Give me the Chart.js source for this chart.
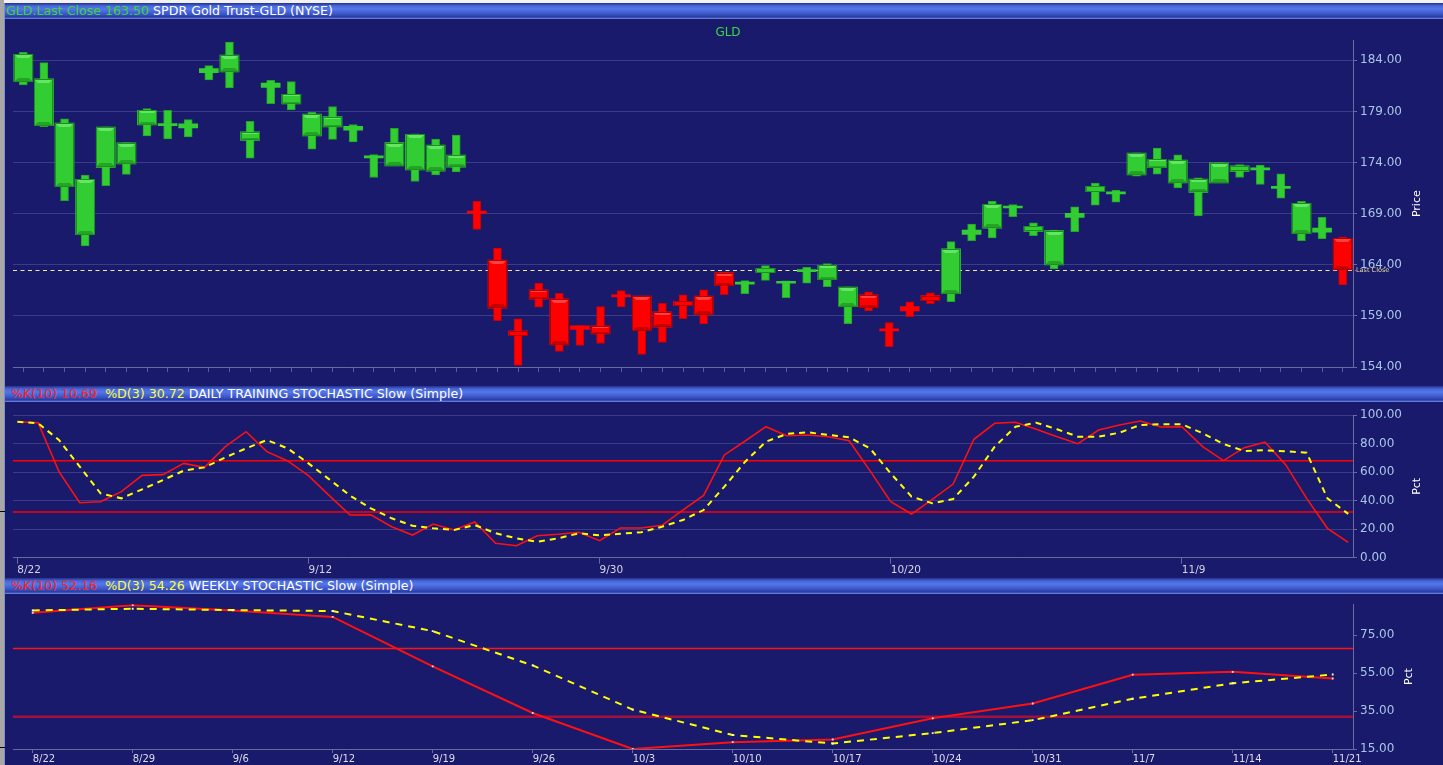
<!DOCTYPE html>
<html>
<head>
<meta charset="utf-8">
<title>GLD</title>
<script src="https://cdn.jsdelivr.net/npm/chart.js@4.4.1/dist/chart.umd.min.js"></script>
<style>
  html, body { margin: 0; padding: 0; width: 1443px; height: 765px; overflow: hidden; background: #1a1a6c; font-family: "DejaVu Sans", sans-serif; }
  .abs { position: absolute; }
  .hdr { position: absolute; left: 5px; right: 0; height: 16px; line-height: 16px; font-size: 12.6px; color: #fff; white-space: pre;
         background: linear-gradient(to bottom, #26308a 0px, #4668dc 3px, #5676e8 6px, #3a56c8 11px, #2a3aa0 14px, #7090ee 16px); }
  .wrap { position: absolute; left: 0; width: 1443px; }
  .k { color: #ff2424; }
  .d { color: #ffff30; }
</style>
</head>
<body>

<div class="abs" style="left:0;top:0;width:1443px;height:3px;background:#f2f2f2"></div>
<div class="hdr" style="top:3px;padding-left:1px"><span style="color:#3cd43c">GLD.Last Close 163.50</span> SPDR Gold Trust-GLD (NYSE)</div>
<div class="wrap" style="top:18px;height:368px"><canvas id="price"></canvas></div>

<div class="hdr" style="top:386px;padding-left:6px"><span class="k">%K(10) 10.69</span>  <span class="d">%D(3) 30.72</span> DAILY TRAINING STOCHASTIC Slow (Simple)</div>
<div class="wrap" style="top:402px;height:176px"><canvas id="daily"></canvas></div>

<div class="hdr" style="top:578px;padding-left:6px"><span class="k">%K(10) 52.16</span>  <span class="d">%D(3) 54.26</span> WEEKLY STOCHASTIC Slow (Simple)</div>
<div class="wrap" style="top:594px;height:171px"><canvas id="weekly"></canvas></div>

<div class="abs" style="left:0;top:0;width:4px;height:765px;background:#a8a8a8"></div>
<div class="abs" style="left:4px;top:3px;width:1px;height:762px;background:#7f8fc4"></div>
<div class="abs" style="left:0;top:511px;width:5px;height:1px;background:#000"></div>
<div class="abs" style="left:0;top:747px;width:5px;height:1px;background:#000"></div>

<script>
// ---- daily sessions (GLD, 8/22 .. 11/21)
const DAYS = [
  "8/22","8/23","8/24","8/25","8/26","8/29","8/30","8/31","9/1","9/2",
  "9/6","9/7","9/8","9/9","9/12","9/13","9/14","9/15","9/16","9/19",
  "9/20","9/21","9/22","9/23","9/26","9/27","9/28","9/29","9/30","10/3",
  "10/4","10/5","10/6","10/7","10/10","10/11","10/12","10/13","10/14","10/17",
  "10/18","10/19","10/20","10/21","10/24","10/25","10/26","10/27","10/28","10/31",
  "11/1","11/2","11/3","11/4","11/7","11/8","11/9","11/10","11/11","11/14",
  "11/15","11/16","11/17","11/18","11/21"];

const OPEN = [
  181.92,177.60,171.63,166.94,173.52,173.87,177.68,177.62,177.40,182.80,
  182.86,176.16,181.36,179.73,176.60,177.49,177.16,174.46,173.68,173.29,
  173.16,173.55,169.25,164.47,157.54,161.54,160.66,158.03,158.02,161.05,
  160.95,159.39,160.43,160.95,163.23,162.10,163.23,162.19,163.33,162.55,
  159.91,161.05,157.73,159.91,160.98,161.18,166.98,167.59,169.55,167.27,
  163.98,168.64,171.14,170.94,172.80,173.49,172.02,171.08,172.02,173.13,
  173.29,171.47,167.04,167.20,166.59];
const HIGH = [
  184.78,183.78,178.27,172.77,177.50,175.95,179.28,179.12,178.20,183.48,
  185.79,178.04,182.05,181.92,178.92,179.48,177.72,174.79,177.36,176.80,
  176.29,176.68,170.23,165.64,158.71,162.19,161.21,158.06,159.91,161.47,
  160.97,160.24,161.05,161.54,163.25,162.45,163.91,162.42,163.76,164.11,
  161.85,161.35,158.35,160.37,161.25,166.26,167.98,170.23,169.90,168.11,
  167.40,169.68,171.99,171.30,174.95,175.41,174.76,172.51,173.99,173.81,
  173.75,172.90,170.20,168.64,166.70];
const LOW = [
  181.59,177.50,170.26,165.84,171.73,172.84,176.60,176.32,176.50,182.08,
  181.30,174.43,179.77,179.15,175.31,176.26,176.02,172.54,173.68,172.15,
  172.80,173.09,167.47,158.54,154.15,159.85,155.52,156.10,156.30,159.88,
  155.22,156.40,158.74,158.22,161.08,161.18,162.48,160.79,162.19,161.86,
  158.25,159.49,156.00,158.93,160.20,160.40,166.36,166.62,168.70,166.85,
  163.59,167.24,169.84,170.13,172.67,172.87,171.53,168.77,172.00,172.54,
  171.86,170.52,166.36,166.55,162.03];
const CLOSE = [
  184.59,182.20,177.85,172.35,177.46,175.92,179.12,177.62,177.80,183.19,
  184.52,177.00,181.78,180.68,178.73,178.50,177.55,174.46,175.96,176.77,
  175.70,174.72,169.03,159.75,157.08,160.63,156.17,157.67,157.24,160.86,
  157.57,157.90,160.00,159.13,161.96,162.10,163.66,162.19,163.33,163.95,
  161.83,159.81,157.53,159.49,160.50,165.55,167.40,169.90,169.55,167.76,
  167.34,169.03,171.67,170.94,174.92,174.30,174.23,172.38,173.97,173.68,
  173.29,171.47,170.00,167.59,163.50];
// training colour of each bar: g = green, r = red
const TREND = [
  "g","g","g","g","g","g","g","g","g","g",
  "g","g","g","g","g","g","g","g","g","g",
  "g","g","r","r","r","r","r","r","r","r",
  "r","r","r","r","r","g","g","g","g","g",
  "g","r","r","r","r","g","g","g","g","g",
  "g","g","g","g","g","g","g","g","g","g",
  "g","g","g","g","r"];
const LAST_CLOSE = 163.50;
const PRICE_TICKS = [154, 159, 164, 169, 174, 179, 184];

// ---- daily stochastic
const K_DAILY = [
  95.3,94.6,60.3,38.5,39.2,46.3,57.7,58.2,66.1,63.3,
  77.8,88.3,74.3,67.8,57.5,43.5,29.9,30.1,21.7,15.9,
  23.6,19.4,25.0,10.1,8.4,15.4,16.4,17.8,11.9,20.8,
  20.8,22.7,33.4,43.7,72.0,81.8,91.8,85.5,86.0,84.8,
  82.0,61.0,39.2,30.6,40.9,51.6,83.0,94.2,94.9,90.0,
  84.8,79.9,89.5,93.0,95.8,91.6,91.8,77.8,68.0,77.1,
  80.9,65.0,41.6,20.6,10.7];
const D_DAILY = [
  95.3,94.2,82.5,63.8,45.1,41.6,47.9,54.4,61.0,63.3,
  70.3,76.6,82.5,76.6,66.1,54.9,43.5,34.6,27.6,22.4,
  20.6,19.4,22.9,17.1,13.6,11.2,13.6,17.1,15.7,16.8,
  17.8,21.7,26.4,33.4,49.8,67.3,81.3,86.7,87.9,86.0,
  84.4,76.6,59.1,42.8,38.1,41.1,56.8,77.8,91.8,94.6,
  90.0,84.8,84.8,87.6,93.0,93.5,93.5,87.2,79.7,74.8,
  75.3,74.6,73.6,41.6,30.7];
const DAILY_LABEL_IDX = [0, 14, 28, 42, 56];
const PCT_TICKS = [0, 20, 40, 60, 80, 100];

// ---- weekly stochastic
const WEEKS = ["8/22","8/29","9/6","9/12","9/19","9/26","10/3","10/10","10/17","10/24","10/31","11/7","11/14","11/21"];
const K_WEEKLY = [86.9, 90.9, 88.1, 84.7, 58.6, 34.0, 15.0, 18.6, 20.0, 31.2, 39.0, 54.2, 55.7, 52.2];
const D_WEEKLY = [88.1, 89.0, 88.3, 87.8, 77.2, 59.1, 35.8, 22.4, 17.9, 23.4, 30.2, 41.5, 49.7, 54.3];
const WEEK_PCT_TICKS = [15, 35, 55, 75];

const OVERBOUGHT = 68, OVERSOLD = 32;

Chart.defaults.font.family = '"DejaVu Sans", sans-serif';
Chart.defaults.animation = false;
Chart.defaults.events = [];

const PAL = {
  g: { fill: "#32cd32", light: "#66e466", dark: "#24a324", edge: "#1d8f1d" },
  r: { fill: "#ff0000", light: "#ff4040", dark: "#c80000", edge: "#b00000" },
};
const AXIS = "#6a6a9c", GRID = "#3b3b88", TICKTXT = "#a8c6e6";

// bevelled look of the candle bodies
const candleBevel = {
  id: "candleBevel",
  afterDatasetsDraw(chart) {
    const ctx = chart.ctx;
    chart.getDatasetMeta(0).data.forEach((bar, i) => {
      const p = bar.getProps(["x", "y", "base", "width"], true);
      const top = Math.round(Math.min(p.y, p.base)), bot = Math.round(Math.max(p.y, p.base));
      const h = bot - top, l = Math.round(p.x - p.width / 2), r = l + Math.round(p.width);
      if (h < 5) return;
      const c = PAL[TREND[i]], b = Math.min(4, Math.floor(h / 4));
      ctx.save();
      ctx.fillStyle = c.light;
      ctx.beginPath(); ctx.moveTo(l, top); ctx.lineTo(r, top); ctx.lineTo(r - b, top + b); ctx.lineTo(l + b, top + b); ctx.closePath(); ctx.fill();
      ctx.fillStyle = c.dark;
      ctx.beginPath(); ctx.moveTo(l, bot); ctx.lineTo(r, bot); ctx.lineTo(r - b, bot - b); ctx.lineTo(l + b, bot - b); ctx.closePath(); ctx.fill();
      ctx.strokeStyle = c.edge; ctx.lineWidth = 1;
      ctx.strokeRect(l + 0.5, top + 0.5, r - l - 1, h - 1);
      ctx.restore();
    });
  },
};

const lastCloseLine = {
  id: "lastCloseLine",
  beforeDatasetsDraw(chart) {
    const ctx = chart.ctx, { left, right } = chart.chartArea;
    const y = Math.round(chart.scales.y.getPixelForValue(LAST_CLOSE)) + 0.5;
    ctx.save();
    ctx.strokeStyle = "#f3ebb0"; ctx.lineWidth = 1; ctx.setLineDash([4, 3.5]);
    ctx.beginPath(); ctx.moveTo(left, y); ctx.lineTo(right + 3, y); ctx.stroke();
    ctx.setLineDash([]);
    ctx.fillStyle = "#e6dc98"; ctx.font = '6.5px "DejaVu Sans"'; ctx.textBaseline = "middle";
    ctx.fillText("Last Close", right + 3, y);
    ctx.restore();
  },
};

const refLines = {
  id: "refLines",
  beforeDatasetsDraw(chart, args, opts) {
    const ctx = chart.ctx, { left, right } = chart.chartArea;
    (opts.lines || []).forEach(ln => {
      const y = chart.scales.y.getPixelForValue(ln.value);
      ctx.save();
      ctx.strokeStyle = ln.color; ctx.lineWidth = ln.width;
      ctx.beginPath(); ctx.moveTo(left, y); ctx.lineTo(right, y); ctx.stroke();
      ctx.restore();
    });
  },
};

const sideTitle = {
  id: "sideTitle",
  afterDraw(chart, args, opts) {
    const ctx = chart.ctx, { top, bottom } = chart.chartArea;
    ctx.save();
    ctx.translate(opts.x, (top + bottom) / 2);
    ctx.rotate(-Math.PI / 2);
    ctx.fillStyle = "#ffffff"; ctx.font = '11px "DejaVu Sans"';
    ctx.textAlign = "center"; ctx.textBaseline = "middle";
    ctx.fillText(opts.text, 0, 0);
    ctx.restore();
  },
};

function rightAxis(ticks, min, max, gridOnArea) {
  return {
    position: "right", min, max,
    afterFit: s => { s.width = 90; },
    afterBuildTicks: s => { s.ticks = ticks.map(v => ({ value: v })); },
    grid: { color: GRID, drawOnChartArea: gridOnArea, drawTicks: true, tickLength: 4, tickColor: AXIS },
    border: { display: true, color: AXIS },
    ticks: { color: TICKTXT, font: { size: 12 }, padding: 3, callback: v => Number(v).toFixed(2) },
  };
}

// ---- price panel
new Chart(document.getElementById("price"), {
  type: "bar",
  data: {
    labels: DAYS,
    datasets: [
      { label: "body", data: DAYS.map((d, i) => [OPEN[i], CLOSE[i]]), order: 1, grouped: false,
        barThickness: 19, minBarLength: 2, borderWidth: 0,
        backgroundColor: c => PAL[TREND[c.dataIndex]].fill },
      { label: "range", data: DAYS.map((d, i) => [LOW[i], HIGH[i]]), order: 2, grouped: false,
        barThickness: 8, borderWidth: 1, borderSkipped: false,
        backgroundColor: c => PAL[TREND[c.dataIndex]].fill,
        borderColor: c => PAL[TREND[c.dataIndex]].dark },
    ],
  },
  options: {
    responsive: true, maintainAspectRatio: false,
    layout: { padding: { left: 13, right: 0, top: 0, bottom: 0 } },
    plugins: {
      legend: { display: false }, tooltip: { enabled: false },
      title: { display: true, text: "GLD", color: "#3ad83a", font: { size: 12, weight: "normal" }, padding: { top: 8, bottom: 0 } },
      sideTitle: { text: "Price", x: 1417 },
    },
    scales: {
      x: {
        offset: true,
        afterFit: s => { s.height = 19; },
        grid: { offset: false, drawOnChartArea: false, drawTicks: true, tickLength: 5, tickColor: "#5e5e98" },
        border: { display: true, color: AXIS },
        ticks: { display: false },
      },
      y: rightAxis(PRICE_TICKS, 154, 185.95, true),
    },
  },
  plugins: [lastCloseLine, candleBevel, sideTitle],
});

// ---- daily stochastic panel
new Chart(document.getElementById("daily"), {
  type: "line",
  data: {
    datasets: [
      { label: "%D(3)", data: D_DAILY.map((v, i) => ({ x: i, y: v })), order: 1,
        borderColor: "#ffff00", borderWidth: 2, borderDash: [6, 5], pointRadius: 0, tension: 0 },
      { label: "%K(10)", data: K_DAILY.map((v, i) => ({ x: i, y: v })), order: 2,
        borderColor: "#ff1010", borderWidth: 1.6, pointRadius: 0, tension: 0 },
    ],
  },
  options: {
    responsive: true, maintainAspectRatio: false,
    layout: { padding: { left: 13, right: 0, top: 13, bottom: 0 } },
    plugins: {
      legend: { display: false }, tooltip: { enabled: false },
      refLines: { lines: [{ value: OVERBOUGHT, color: "#ff0000", width: 1.5 }, { value: OVERSOLD, color: "#ff0000", width: 1.5 }] },
      sideTitle: { text: "Pct", x: 1417 },
    },
    scales: {
      x: {
        type: "linear", min: -0.21, max: 64.23,
        afterFit: s => { s.height = 20.3; },
        afterBuildTicks: s => { s.ticks = DAILY_LABEL_IDX.map(v => ({ value: v })); },
        grid: { drawOnChartArea: false, drawTicks: true, tickLength: 6, tickColor: "#6a6aa0" },
        border: { display: true, color: AXIS },
        ticks: { color: "#d4d4e4", font: { size: 10.5 }, padding: 0, align: "start", maxRotation: 0, autoSkip: false,
                 callback: v => DAYS[v] },
      },
      y: rightAxis(PCT_TICKS, 0, 100, true),
    },
  },
  plugins: [refLines, sideTitle],
});

// ---- weekly stochastic panel
new Chart(document.getElementById("weekly"), {
  type: "line",
  data: {
    datasets: [
      { label: "%D(3)", data: D_WEEKLY.map((v, i) => ({ x: i, y: v })), order: 1,
        borderColor: "#ffff00", borderWidth: 2, borderDash: [7, 6], tension: 0,
        pointRadius: 1.3, pointStyle: "rect", pointBackgroundColor: "#ffffd0", pointBorderWidth: 0 },
      { label: "%K(10)", data: K_WEEKLY.map((v, i) => ({ x: i, y: v })), order: 2,
        borderColor: "#ff1010", borderWidth: 2, tension: 0,
        pointRadius: 1.3, pointStyle: "rect", pointBackgroundColor: "#ffd8d8", pointBorderWidth: 0 },
    ],
  },
  options: {
    responsive: true, maintainAspectRatio: false,
    layout: { padding: { left: 13, right: 0, top: 7.7, bottom: 0 } },
    plugins: {
      legend: { display: false }, tooltip: { enabled: false },
      refLines: { lines: [{ value: OVERBOUGHT, color: "#ff1414", width: 1.4 }, { value: OVERSOLD, color: "#a3103c", width: 2.4 }] },
      sideTitle: { text: "Pct", x: 1409 },
    },
    scales: {
      x: {
        type: "linear", min: -0.197, max: 13.203,
        afterFit: s => { s.height = 16; },
        afterBuildTicks: s => { s.ticks = WEEKS.map((w, i) => ({ value: i })); },
        grid: { drawOnChartArea: false, drawTicks: true, tickLength: 4, tickColor: "#6a6aa0" },
        border: { display: true, color: AXIS },
        ticks: { color: "#dcdcec", font: { size: 10 }, padding: 0, align: "start", maxRotation: 0, autoSkip: false,
                 callback: v => WEEKS[v] },
      },
      y: rightAxis(WEEK_PCT_TICKS, 15, 91.4, false),
    },
  },
  plugins: [refLines, sideTitle],
});
</script>
</body>
</html>
